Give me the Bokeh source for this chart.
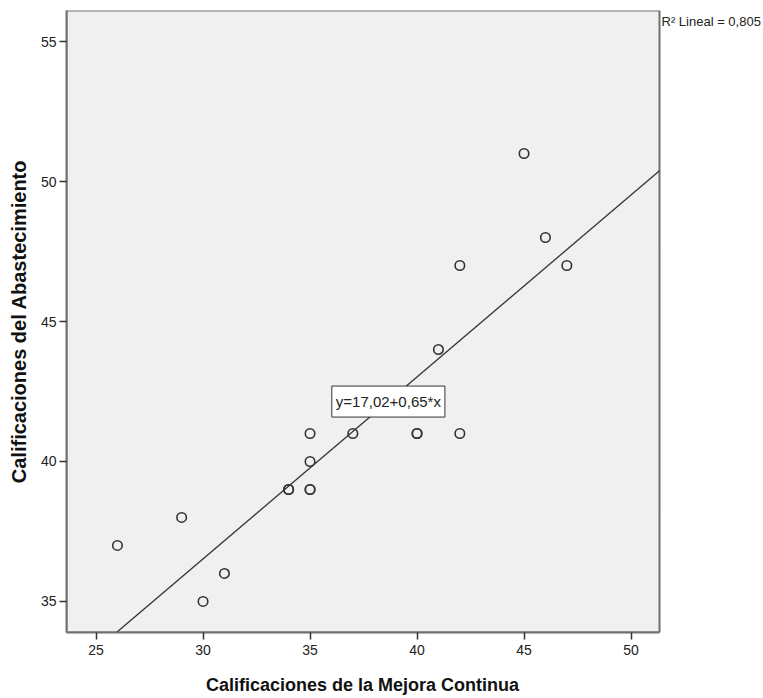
from bokeh.plotting import figure
from bokeh.models import Range1d, Label, FixedTicker, BoxAnnotation
from bokeh.embed import file_html
from bokeh.resources import INLINE

# Data
mejora = [26, 29, 30, 31, 34, 34, 35, 35, 35, 35, 37, 40, 40, 41, 42, 42, 45, 46, 47]
abastecimiento = [37, 38, 35, 36, 39, 39, 39, 39, 40, 41, 41, 41, 41, 44, 47, 41, 51, 48, 47]
intercept = 17.02
slope = 0.65
r2_text = "R\u00b2 Lineal = 0,805"
eq_text = "y=17,02+0,65*x"
x_title = "Calificaciones de la Mejora Continua"
y_title = "Calificaciones del Abastecimiento"
x_ticks = [25, 30, 35, 40, 45, 50]
y_ticks = [35, 40, 45, 50, 55]

NARROW = "'Liberation Sans Narrow', 'Arial Narrow', 'Liberation Sans', sans-serif"
BOLD = "'Liberation Sans', Arial, sans-serif"

# visible plot area (data extent of the grey panel)
x0, x1 = 23.62, 51.33
y0, y1 = 33.89, 56.11
# the frame extends to the right edge of the canvas so the R² note can sit there
x_end = x0 + (x1 - x0) * 697.0 / 593.0

p = figure(width=763, height=698, output_backend="svg", toolbar_location=None,
           x_range=Range1d(x0, x_end), y_range=Range1d(y0, y1),
           min_border_left=66, min_border_right=0, min_border_top=10, min_border_bottom=66)

p.background_fill_color = "white"
p.border_fill_color = "white"
p.outline_line_color = None
p.xgrid.visible = False
p.ygrid.visible = False

panel = BoxAnnotation(left=x0, right=x1, bottom=y0, top=y1, fill_color="#F0F0F0", fill_alpha=1.0,
                      line_color="#707070", line_width=2, line_alpha=1.0, level="underlay")
p.add_layout(panel)

for ax, ticks in ((p.xaxis[0], x_ticks), (p.yaxis[0], y_ticks)):
    ax.ticker = FixedTicker(ticks=ticks)
    ax.minor_tick_line_color = None
    ax.major_tick_in = 0
    ax.major_tick_out = 7
    ax.major_tick_line_color = "#333333"
    ax.major_tick_line_width = 1.5
    ax.axis_line_color = "#707070"
    ax.axis_line_width = 2
    ax.major_label_text_font = NARROW
    ax.major_label_text_font_size = "14px"
    ax.major_label_text_color = "#222222"
    ax.axis_label_text_font = BOLD
    ax.axis_label_text_font_style = "bold"
    ax.axis_label_text_color = "#111111"

p.xaxis.bounds = (x0, x1)
# trailing no-break spaces shift the centred title under the grey panel
p.xaxis.axis_label = x_title + "\u00a0" * 21
p.yaxis.axis_label = y_title
p.xaxis.axis_label_text_font_size = "18px"
p.yaxis.axis_label_text_font_size = "20px"
p.xaxis.major_label_standoff = 5
p.yaxis.major_label_standoff = 3
p.xaxis.axis_label_standoff = 17
p.yaxis.axis_label_standoff = 8

# regression line across the panel width
lx = [x0, x1]
ly = [intercept + slope * v for v in lx]
p.line(lx, ly, line_color="#333333", line_width=1.3)

p.scatter(mejora, abastecimiento, marker="circle", size=9.5, fill_color=None,
          line_color="#333333", line_width=1.6)

eq = Label(x=38.66, y=42.14, text=eq_text, text_align="center", text_baseline="middle",
           text_font=NARROW, text_font_size="15px", text_color="#222222",
           background_fill_color="white", border_line_color="#333333",
           border_line_width=1, padding=dict(left=4, right=4, top=7, bottom=7))
p.add_layout(eq)

r2 = Label(x=x1, y=56.0, x_offset=2, text=r2_text, text_align="left", text_baseline="top",
           text_font=NARROW, text_font_size="13px", text_color="#222222")
p.add_layout(r2)

open("out.html", "w").write(file_html(p, INLINE))
